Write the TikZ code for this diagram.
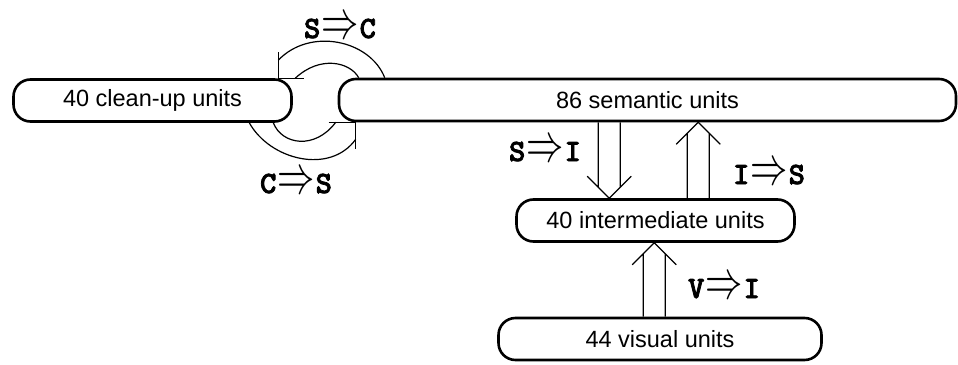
\documentclass[tikz,border=0pt]{standalone}
\usepackage{fontspec}
\setmainfont{Liberation Sans}
\newfontfamily\tagfont{lmmonolt10-bold}[Extension=.otf, FakeBold=2.5]
\usetikzlibrary{calc}

\tikzset{
  unitbox/.style={draw, line width=2.6pt, rounded corners=17pt, minimum height=42pt,
    inner sep=0pt, font=\fontsize{23.5}{28}\selectfont},
  flow/.style={line width=1.2pt, line join=miter},
  tag/.style={font=\fontsize{31}{34}\selectfont\tagfont, inner sep=0pt, anchor=base},
}

% thin double implication sign used in the connection labels
\newcommand\impl{\hspace{1pt}\smash{\scalebox{1.5}[2.2]{$\Rightarrow$}}\hspace{1pt}}

% hollow straight arrow: #1 base point, #2 tip point, #3 signed head offset
\newcommand\hollowarrow[3]{%
  \draw[flow] ($(#1)+(-11,0)$) -- ($(#2)+(-11,{#3})$)
              ($(#1)+(11,0)$) -- ($(#2)+(11,{#3})$)
              ($(#2)+(-22,{2*(#3)})$) -- (#2) -- ($(#2)+(22,{2*(#3)})$);}

\begin{document}
\begin{tikzpicture}[x=1pt, y=-1pt]
\useasboundingbox (0,0) rectangle (958,364);

% unit pools
\node[unitbox, minimum width=278pt] (clean) at (152.5,100.5) {40 clean-up units\hspace{20pt}};
\node[unitbox, minimum width=617pt] (sem)   at (647.5,100)   {86 semantic units};
\node[unitbox, minimum width=278pt] (inter) at (655.5,220.5) {40 intermediate units};
\node[unitbox, minimum width=323pt] (vis)   at (660,339)     {44 visual units\hspace{20pt}};

% semantic <-> intermediate, visual -> intermediate
\coordinate (siT) at ($(inter.north west)+(94,0)$);
\coordinate (siB) at (siT |- sem.south);
\hollowarrow{siB}{siT}{-11}

\coordinate (isB) at ($(inter.north west)+(183,0)$);
\coordinate (isT) at (isB |- sem.south);
\hollowarrow{isB}{isT}{11}

\coordinate (viT) at ($(inter.south west)+(139,0)$);
\coordinate (viB) at (viT |- vis.north);
\hollowarrow{viB}{viT}{11}

% semantic -> clean-up (curved, over the top)
\coordinate (scO) at ($(sem.north west)+(47,0)$);
\coordinate (scI) at ($(sem.north west)+(21,0)$);
\coordinate (scTip) at ($(clean.north east)+(-14.5,0)$);
\draw[flow] (scO) .. controls (370,40) and (310,27) .. ($(scTip)+(0,-18)$);
\draw[flow] (scI) .. controls (350,62) and (320,55) .. ($(scTip)+(17,0)$);
\draw[flow] ($(scTip)+(0,-26)$) -- (scTip) -- ($(scTip)+(26,0)$);

% clean-up -> semantic (curved, underneath)
\coordinate (csO) at ($(clean.south east)+(-43.5,0)$);
\coordinate (csI) at ($(clean.south east)+(-19.5,0)$);
\coordinate (csTip) at ($(sem.south west)+(18,0)$);
\draw[flow] (csO) .. controls (270,160) and (330,175) .. ($(csTip)+(0,17)$);
\draw[flow] (csI) .. controls (282,145) and (315,150) .. ($(csTip)+(-20,0)$);
\draw[flow] ($(csTip)+(-27,0)$) -- (csTip) -- ($(csTip)+(0,27)$);

% connection labels
\node[tag] (lSC) at (340,38)  {S\impl C};
\node[tag] (lCS) at (296,193) {C\impl S};
\node[tag] (lSI) at (545,161) {S\impl I};
\node[tag] (lIS) at (769,184) {I\impl S};
\node[tag] (lVI) at (724,298) {V\impl I};
\end{tikzpicture}
\end{document}
